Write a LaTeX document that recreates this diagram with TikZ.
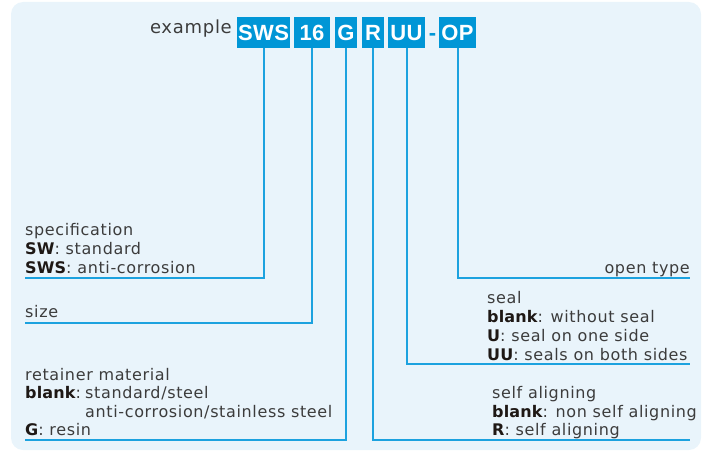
\documentclass[tikz,border=0pt]{standalone}
\usepackage{fontspec}
\setmainfont{DejaVu Sans}[LetterSpace=4]
\newfontfamily\kwfont{DejaVu Sans}[LetterSpace=1]
\newfontfamily\lblfont{Liberation Sans}[LetterSpace=2]
\definecolor{bgc}{RGB}{233,244,251}
\definecolor{boxblue}{RGB}{0,150,214}
\definecolor{linec}{RGB}{28,162,223}
\definecolor{txt}{RGB}{60,60,60}
\definecolor{txtb}{RGB}{30,24,21}
\tikzset{
  box/.style={fill=boxblue, draw=none, minimum height=31pt, inner sep=0pt},
  boxtxt/.style={anchor=base, inner sep=0pt, text=white, font=\lblfont\fontsize{22}{22}\selectfont\bfseries},
  conn/.style={draw=linec, line width=2pt, line join=miter},
  desc/.style={anchor=base west, inner sep=0pt, text=txt, font=\fontsize{16}{16}\selectfont},
  descr/.style={anchor=base east, inner sep=0pt, text=txt, font=\fontsize{16}{16}\selectfont},
}
\newcommand{\kw}[1]{{\kwfont\bfseries\color{txtb}#1}}
\begin{document}
\begin{tikzpicture}[x=1pt,y=-1pt]
\useasboundingbox (0,0) rectangle (702,452);
\fill[bgc, rounded corners=12pt] (11,2) rectangle (701,450);

% example label
\node[descr, font=\fontsize{18}{18}\selectfont] (ex) at (232,34) {example};

% code boxes
\node[box, minimum width=53pt] (sws) at (263.5,32.5) {};
\node[box, minimum width=36pt] (n16) at (312,32.5) {};
\node[box, minimum width=22pt] (g) at (346,32.5) {};
\node[box, minimum width=22pt] (r) at (373,32.5) {};
\node[box, minimum width=37pt] (uu) at (406.5,32.5) {};
\node[box, minimum width=37pt] (op) at (457.5,32.5) {};
\node[boxtxt] (swst) at (263.5,41) {SWS};
\node[boxtxt] (n16t) at (312,41) {16};
\node[boxtxt] (gt) at (346,41) {G};
\node[boxtxt] (rt) at (373,41) {R};
\node[boxtxt] (uut) at (406.5,41) {UU};
\node[boxtxt, text=boxblue] (dash) at (432.5,41) {-};
\node[boxtxt] (opt) at (457.5,41) {OP};

% connector ends
\coordinate (e1) at (25,278);
\coordinate (e2) at (25,323);
\coordinate (e3) at (25,440);
\coordinate (e4) at (690,440);
\coordinate (e5) at (690,364);
\coordinate (e6) at (690,278);

\draw[conn] (sws.south) |- (e1);
\draw[conn] (n16.south) |- (e2);
\draw[conn] (g.south) |- (e3);
\draw[conn] (r.south) |- (e4);
\draw[conn] (uu.south) |- (e5);
\draw[conn] (op.south) |- (e6);

% specification
\node[desc] (s1) at (25,235) {specification};
\node[desc] (s2) at (25,254) {\kw{SW}: standard};
\node[desc] (s3) at (25,273) {\kw{SWS}: anti-corrosion};
% size
\node[desc] (z1) at (25,317) {size};
% retainer
\node[desc] (m1) at (25,380) {retainer material};
\node[desc] (m2) at (25,398.5) {\kw{blank}:};
\node[desc] (m2b) at (85,398.5) {standard/steel};
\node[desc] (m3) at (85,417) {anti-corrosion/stainless steel};
\node[desc] (m4) at (25,435.5) {\kw{G}: resin};
% open type
\node[descr] (o1) at (690,273) {open type};
% seal
\node[desc] (l1) at (487,303) {seal};
\node[desc] (l2) at (487,322) {\kw{blank}: without seal};
\node[desc] (l3) at (487,341) {\kw{U}: seal on one side};
\node[desc] (l4) at (487,360) {\kw{UU}: seals on both sides};
% self aligning
\node[desc] (a1) at (492,398) {self aligning};
\node[desc] (a2) at (492,417) {\kw{blank}: non self aligning};
\node[desc] (a3) at (492,435.5) {\kw{R}: self aligning};
\end{tikzpicture}
\end{document}
